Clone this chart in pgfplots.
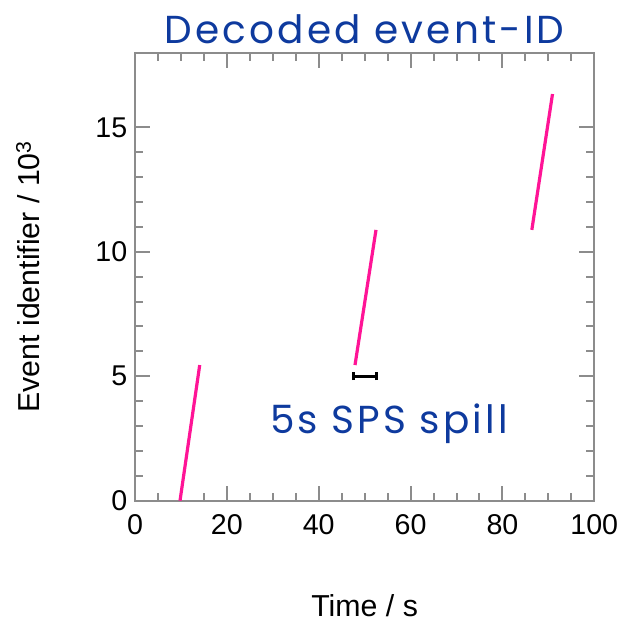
\documentclass[border=0pt]{standalone}
\usepackage{pgfplots}
\pgfplotsset{compat=1.18}
\usepackage{fontspec}
\setmainfont{Liberation Sans}
\newfontfamily\titlefont[LetterSpace=8]{Poppins}
\definecolor{axgray}{RGB}{140,140,140}
\definecolor{pinkline}{RGB}{255,20,150}
\definecolor{titleblue}{RGB}{14,58,158}
\begin{document}
\begin{tikzpicture}
\begin{axis}[
  scale only axis,
  width=459.3pt, height=448pt,
  xmin=0, xmax=100, ymin=0, ymax=18,
  xtick={0,20,40,60,80,100},
  ytick={0,5,10,15},
  minor x tick num=3,
  minor y tick num=4,
  tick align=inside,
  major tick length=15pt,
  minor tick length=8pt,
  axis line style={axgray, line width=2pt},
  every tick/.style={axgray, line width=2pt},
  /pgf/number format/assume math mode=true,
  ticklabel style={font=\fontsize{28.6}{32}\selectfont},
  xticklabel style={anchor=north, inner sep=0pt, yshift=-14pt},
  yticklabel style={anchor=east, inner sep=0pt, xshift=-7.6pt},
  xlabel={Time / s},
  ylabel={Event identifier / 10$^{\mathrm{3}}$},
  label style={font=\fontsize{30.3}{34}\selectfont},
  xlabel style={at={(axis description cs:0.5,0)}, anchor=base, inner sep=0pt, yshift=-115.3pt},
  ylabel style={at={(axis description cs:0,0.5)}, anchor=base, inner sep=0pt, yshift=95pt},
  title={Decoded event-ID},
  every axis title shift=0pt,
  title style={at={(axis description cs:0.5,1)}, anchor=base, inner sep=0pt, yshift=9.4pt, font=\titlefont\fontsize{39}{44}\selectfont, text=titleblue},
  clip=true,
]
\addplot[pinkline, line width=3.2pt] coordinates {(9.80,0) (14.09,5.45)};
\addplot[pinkline, line width=3.2pt] coordinates {(47.9,5.45) (52.47,10.88)};
\addplot[pinkline, line width=3.2pt] coordinates {(86.4,10.88) (90.9,16.34)};
% 5 s spill interval bar with caps
\addplot[black, line width=3.4pt] coordinates {(47.5,5) (52.5,5)};
\addplot[black, line width=3.2pt] coordinates {(47.5,4.84) (47.5,5.16)};
\addplot[black, line width=3.2pt] coordinates {(52.5,4.84) (52.5,5.16)};
\node[anchor=base, inner sep=0pt, text=titleblue, font=\titlefont\fontsize{39}{44}\selectfont] at (axis cs:55.3,2.71) {5s SPS spill};
\end{axis}
\pgfresetboundingbox
\path[use as bounding box] (-135pt,-121.3pt) rectangle (491pt,500.7pt);
\end{tikzpicture}
\end{document}
